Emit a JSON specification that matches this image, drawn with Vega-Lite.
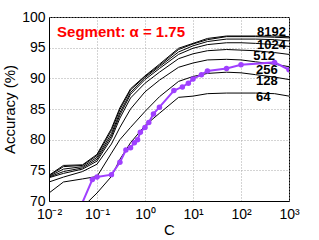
{
  "$schema": "https://vega.github.io/schema/vega-lite/v6.json",
  "width": 240,
  "height": 184,
  "autosize": {"type": "none"},
  "padding": {"left": 49, "top": 17, "right": 30, "bottom": 39},
  "background": "white",
  "config": {
    "font": "Liberation Sans",
    "view": {"stroke": "black", "strokeWidth": 1},
    "axis": {
      "labelFont": "Liberation Sans",
      "titleFont": "Liberation Sans",
      "labelColor": "black",
      "titleColor": "black",
      "labelFontSize": 14,
      "titleFontSize": 15,
      "titleFontWeight": "normal",
      "domainColor": "black",
      "tickColor": "black",
      "gridColor": "#a8a8a8",
      "gridDash": [1, 2],
      "gridWidth": 1
    }
  },
  "datasets": {
    "curves": [
      {"n":"8192","C":0.01,"acc":74.2},{"n":"8192","C":0.02,"acc":75.8},{"n":"8192","C":0.05,"acc":75.9},{"n":"8192","C":0.1,"acc":77.6},{"n":"8192","C":0.2,"acc":81.8},{"n":"8192","C":0.3,"acc":85.2},{"n":"8192","C":0.5,"acc":88.3},{"n":"8192","C":1,"acc":90.4},{"n":"8192","C":2,"acc":92.3},{"n":"8192","C":5,"acc":94.9},{"n":"8192","C":10,"acc":95.7},{"n":"8192","C":20,"acc":96.5},{"n":"8192","C":50,"acc":96.9},{"n":"8192","C":100,"acc":96.9},{"n":"8192","C":200,"acc":96.9},{"n":"8192","C":500,"acc":96.9},{"n":"8192","C":1000,"acc":96.8},
      {"n":"4096","C":0.01,"acc":74.1},{"n":"4096","C":0.02,"acc":75.6},{"n":"4096","C":0.05,"acc":75.8},{"n":"4096","C":0.1,"acc":77.4},{"n":"4096","C":0.2,"acc":81.5},{"n":"4096","C":0.3,"acc":84.9},{"n":"4096","C":0.5,"acc":88.1},{"n":"4096","C":1,"acc":90.3},{"n":"4096","C":2,"acc":92.1},{"n":"4096","C":5,"acc":94.7},{"n":"4096","C":10,"acc":95.6},{"n":"4096","C":20,"acc":96.3},{"n":"4096","C":50,"acc":96.8},{"n":"4096","C":100,"acc":96.8},{"n":"4096","C":200,"acc":96.8},{"n":"4096","C":500,"acc":96.7},{"n":"4096","C":1000,"acc":96.6},
      {"n":"2048","C":0.01,"acc":74.0},{"n":"2048","C":0.02,"acc":75.2},{"n":"2048","C":0.05,"acc":75.6},{"n":"2048","C":0.1,"acc":77.1},{"n":"2048","C":0.2,"acc":81.0},{"n":"2048","C":0.3,"acc":84.4},{"n":"2048","C":0.5,"acc":87.7},{"n":"2048","C":1,"acc":90.1},{"n":"2048","C":2,"acc":91.9},{"n":"2048","C":5,"acc":94.3},{"n":"2048","C":10,"acc":95.3},{"n":"2048","C":20,"acc":96.0},{"n":"2048","C":50,"acc":96.4},{"n":"2048","C":100,"acc":96.4},{"n":"2048","C":200,"acc":96.4},{"n":"2048","C":500,"acc":96.3},{"n":"2048","C":1000,"acc":96.1},
      {"n":"1024","C":0.01,"acc":73.9},{"n":"1024","C":0.02,"acc":74.8},{"n":"1024","C":0.05,"acc":75.4},{"n":"1024","C":0.1,"acc":76.8},{"n":"1024","C":0.2,"acc":80.6},{"n":"1024","C":0.3,"acc":84.0},{"n":"1024","C":0.5,"acc":87.4},{"n":"1024","C":1,"acc":89.8},{"n":"1024","C":2,"acc":91.6},{"n":"1024","C":5,"acc":93.9},{"n":"1024","C":10,"acc":94.9},{"n":"1024","C":20,"acc":95.5},{"n":"1024","C":50,"acc":95.8},{"n":"1024","C":100,"acc":95.8},{"n":"1024","C":200,"acc":95.7},{"n":"1024","C":500,"acc":95.5},{"n":"1024","C":1000,"acc":95.2},
      {"n":"512","C":0.01,"acc":73.8},{"n":"512","C":0.02,"acc":74.5},{"n":"512","C":0.05,"acc":75.2},{"n":"512","C":0.1,"acc":76.5},{"n":"512","C":0.2,"acc":80.2},{"n":"512","C":0.3,"acc":83.5},{"n":"512","C":0.5,"acc":86.8},{"n":"512","C":1,"acc":89.2},{"n":"512","C":2,"acc":91.0},{"n":"512","C":5,"acc":93.2},{"n":"512","C":10,"acc":94.0},{"n":"512","C":20,"acc":94.5},{"n":"512","C":50,"acc":94.7},{"n":"512","C":100,"acc":94.6},{"n":"512","C":200,"acc":94.5},{"n":"512","C":500,"acc":94.2},{"n":"512","C":1000,"acc":93.9},
      {"n":"256","C":0.01,"acc":73.1},{"n":"256","C":0.02,"acc":73.9},{"n":"256","C":0.05,"acc":74.8},{"n":"256","C":0.1,"acc":76.0},{"n":"256","C":0.2,"acc":79.3},{"n":"256","C":0.3,"acc":82.0},{"n":"256","C":0.5,"acc":85.0},{"n":"256","C":1,"acc":87.8},{"n":"256","C":2,"acc":89.7},{"n":"256","C":5,"acc":91.8},{"n":"256","C":10,"acc":92.5},{"n":"256","C":20,"acc":93.0},{"n":"256","C":50,"acc":93.1},{"n":"256","C":100,"acc":93.0},{"n":"256","C":200,"acc":92.7},{"n":"256","C":500,"acc":92.3},{"n":"256","C":1000,"acc":91.9},
      {"n":"128","C":0.01,"acc":71.3},{"n":"128","C":0.02,"acc":73.1},{"n":"128","C":0.05,"acc":73.6},{"n":"128","C":0.1,"acc":74.0},{"n":"128","C":0.2,"acc":77.8},{"n":"128","C":0.3,"acc":80.0},{"n":"128","C":0.5,"acc":82.0},{"n":"128","C":1,"acc":84.6},{"n":"128","C":2,"acc":87.0},{"n":"128","C":5,"acc":89.5},{"n":"128","C":10,"acc":90.3},{"n":"128","C":20,"acc":90.8},{"n":"128","C":50,"acc":91.0},{"n":"128","C":100,"acc":90.9},{"n":"128","C":200,"acc":90.6},{"n":"128","C":500,"acc":90.2},{"n":"128","C":1000,"acc":89.8},
      {"n":"64","C":0.01,"acc":66.5},{"n":"64","C":0.02,"acc":68.0},{"n":"64","C":0.05,"acc":69.0},{"n":"64","C":0.1,"acc":71.3},{"n":"64","C":0.2,"acc":74.0},{"n":"64","C":0.3,"acc":76.8},{"n":"64","C":0.5,"acc":79.5},{"n":"64","C":1,"acc":82.3},{"n":"64","C":2,"acc":84.3},{"n":"64","C":5,"acc":86.9},{"n":"64","C":10,"acc":87.1},{"n":"64","C":20,"acc":87.5},{"n":"64","C":50,"acc":87.6},{"n":"64","C":100,"acc":87.6},{"n":"64","C":200,"acc":87.6},{"n":"64","C":500,"acc":87.5},{"n":"64","C":1000,"acc":87.1}
    ],
    "segment": [
      {"C":0.05,"acc":69.8},{"C":0.08,"acc":73.5},{"C":0.1,"acc":73.9},{"C":0.2,"acc":74.3},{"C":0.3,"acc":76.3},{"C":0.4,"acc":78.3},{"C":0.5,"acc":78.7},{"C":0.6,"acc":79.5},{"C":0.7,"acc":80.0},{"C":0.8,"acc":81.2},{"C":1,"acc":82.0},{"C":1.2,"acc":82.8},{"C":1.5,"acc":84.2},{"C":2,"acc":85.3},{"C":4,"acc":88.0},{"C":6,"acc":88.6},{"C":8,"acc":89.2},{"C":10,"acc":89.9},{"C":15,"acc":90.6},{"C":20,"acc":91.2},{"C":50,"acc":91.6},{"C":100,"acc":92.2},{"C":500,"acc":92.6},{"C":1000,"acc":91.4}
    ],
    "labels": [
      {"t":"8192","C":215,"acc":97.6},
      {"t":"1024","C":215,"acc":95.4},
      {"t":"512","C":180,"acc":93.6},
      {"t":"256","C":205,"acc":91.4},
      {"t":"128","C":205,"acc":89.5},
      {"t":"64","C":205,"acc":86.9}
    ],
    "title": [{"t":"Segment: α = 1.75","C":0.0147,"acc":97.6}]
  },
  "encoding": {
    "x": {
      "field": "C", "type": "quantitative",
      "scale": {"type": "log", "domain": [0.01, 1000], "nice": false},
      "axis": {
        "values": [0.01, 0.1, 1, 10, 100, 1000],
        "title": "C",
        "ticks": false,
        "labelPadding": 6,
        "titlePadding": 1,
        "labelFlush": false,
        "labelExpr": "round(log(datum.value)/LN10) == -2 ? '10⁻²' : round(log(datum.value)/LN10) == -1 ? '10⁻¹' : round(log(datum.value)/LN10) == 0 ? '10⁰' : round(log(datum.value)/LN10) == 1 ? '10¹' : round(log(datum.value)/LN10) == 2 ? '10²' : '10³'"
      }
    },
    "y": {
      "field": "acc", "type": "quantitative",
      "scale": {"domain": [70, 100], "nice": false, "zero": false},
      "axis": {
        "values": [70, 75, 80, 85, 90, 95, 100],
        "title": "Accuracy (%)",
        "ticks": false,
        "labelPadding": 4,
        "titlePadding": 4,
        "labelFlush": false
      }
    }
  },
  "layer": [
    {
      "data": {"name": "curves"},
      "mark": {"type": "line", "color": "black", "strokeWidth": 1, "clip": true},
      "encoding": {"detail": {"field": "n", "type": "nominal"}}
    },
    {
      "data": {"name": "segment"},
      "mark": {"type": "line", "color": "#a040ff", "strokeWidth": 2, "clip": true}
    },
    {
      "data": {"name": "segment"},
      "transform": [{"filter": "datum.acc >= 70"}],
      "mark": {"type": "circle", "color": "#a040ff", "opacity": 1, "size": 30, "clip": true}
    },
    {
      "data": {"name": "labels"},
      "mark": {"type": "text", "align": "left", "baseline": "middle", "fontSize": 13, "fontWeight": "bold", "color": "black"},
      "encoding": {"text": {"field": "t"}}
    },
    {
      "data": {"name": "title"},
      "mark": {"type": "text", "align": "left", "baseline": "middle", "fontSize": 15, "fontWeight": "bold", "color": "#ff0000"},
      "encoding": {"text": {"field": "t"}}
    }
  ]
}
